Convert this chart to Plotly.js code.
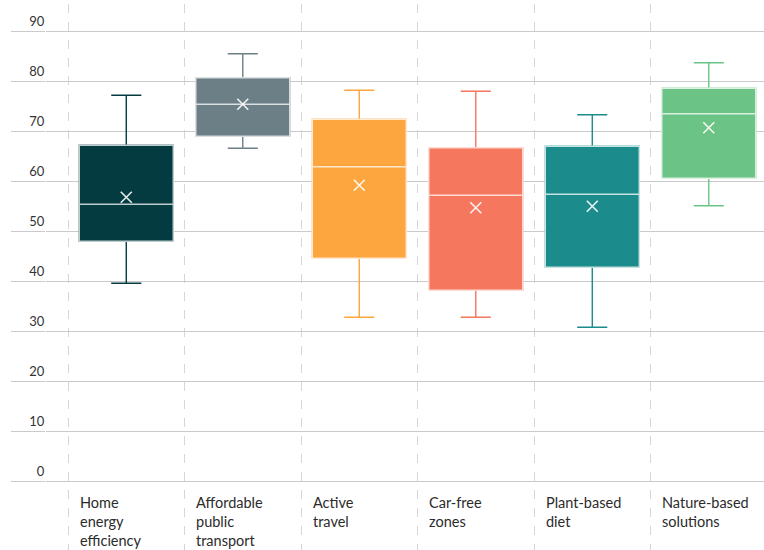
<!DOCTYPE html>
<html>
<head>
<meta charset="utf-8">
<script src="https://cdn.plot.ly/plotly-3.0.1.min.js"></script>
<style>html,body{margin:0;padding:0;background:#fff;}#chart{width:764px;height:550px;}</style>
</head>
<body>
<div id="chart"></div>
<script>
const categories = ["Home energy efficiency", "Affordable public transport", "Active travel", "Car-free zones", "Plant-based diet", "Nature-based solutions"];
const labelLines = ["Home<br>energy<br>efficiency", "Affordable<br>public<br>transport", "Active<br>travel", "Car-free<br>zones", "Plant-based<br>diet", "Nature-based<br>solutions"];
const lowerWhisker = [39.7, 66.7, 32.9, 32.9, 30.9, 55.2];
const q1Values = [48.1, 69.1, 44.7, 38.3, 42.9, 60.7];
const medianValues = [55.5, 75.5, 63.0, 57.3, 57.5, 73.6];
const q3Values = [67.3, 80.8, 72.5, 66.8, 67.1, 78.7];
const upperWhisker = [77.3, 85.6, 78.3, 78.1, 73.4, 83.8];
const meanValues = [56.9, 75.5, 59.3, 54.8, 55.1, 70.8];
const yTicks = [0, 10, 20, 30, 40, 50, 60, 70, 80, 90];
const colors = ["#033B40", "#6C7F87", "#FDA53E", "#F4775E", "#1C8B8B", "#6BC386"];

const traces = [];
categories.forEach((c, i) => {
  traces.push({
    type: 'box', x: [c], q1: [q1Values[i]], median: [medianValues[i]], q3: [q3Values[i]],
    lowerfence: [lowerWhisker[i]], upperfence: [upperWhisker[i]],
    width: 0.807, whiskerwidth: 0.32, fillcolor: colors[i],
    line: {color: colors[i], width: 1.4}, boxpoints: false, hoverinfo: 'skip', showlegend: false
  });
  traces.push({
    type: 'box', x: [c], q1: [q1Values[i]], median: [medianValues[i]], q3: [q3Values[i]],
    lowerfence: [q1Values[i]], upperfence: [q3Values[i]],
    width: 0.807, whiskerwidth: 0, fillcolor: 'rgba(0,0,0,0)',
    line: {color: 'rgba(255,255,255,0.75)', width: 1.5}, boxpoints: false, hoverinfo: 'skip', showlegend: false
  });
});
traces.push({
  type: 'scatter', mode: 'markers', x: categories, y: meanValues,
  marker: {symbol: 'x-thin', size: 11, color: 'rgba(255,255,255,0.9)', line: {color: 'rgba(255,255,255,0.9)', width: 1.6}},
  hoverinfo: 'skip', showlegend: false
});

const annotations = labelLines.map((t, i) => ({
  x: i - 0.418, y: -2.0, xref: 'x', yref: 'y', text: t, showarrow: false,
  xanchor: 'left', yanchor: 'top', align: 'left',
  font: {family: 'Lato, sans-serif', size: 14.5, color: '#2b2b2b'}
}));

const layout = {
  width: 764, height: 550,
  margin: {l: 46, r: 0, t: 4, b: 0},
  paper_bgcolor: '#fff', plot_bgcolor: '#fff',
  boxmode: 'overlay',
  font: {family: 'Lato, sans-serif', size: 13, color: '#333'},
  xaxis: {
    type: 'category', categoryarray: categories, categoryorder: 'array',
    range: [-0.689, 5.474], tickson: 'boundaries', showgrid: true, griddash: 'dash',
    gridcolor: '#d6d6d6', gridwidth: 1, showticklabels: false, ticks: '', zeroline: false, showline: false
  },
  yaxis: {
    range: [-13.66, 95.54], tickmode: 'array', tickvals: yTicks, ticktext: yTicks.map(String),
    showgrid: true, gridcolor: '#cacaca', gridwidth: 1.3, zeroline: false, showline: false,
    ticks: 'outside', ticklen: 34, tickcolor: '#cacaca', tickwidth: 1.3,
    ticklabelstandoff: -36, ticklabelshift: -10,
    tickfont: {family: 'Lato, sans-serif', size: 13, color: '#333'}
  },
  annotations: annotations
};

Plotly.newPlot('chart', traces, layout, {staticPlot: true, displayModeBar: false});
</script>
</body>
</html>
